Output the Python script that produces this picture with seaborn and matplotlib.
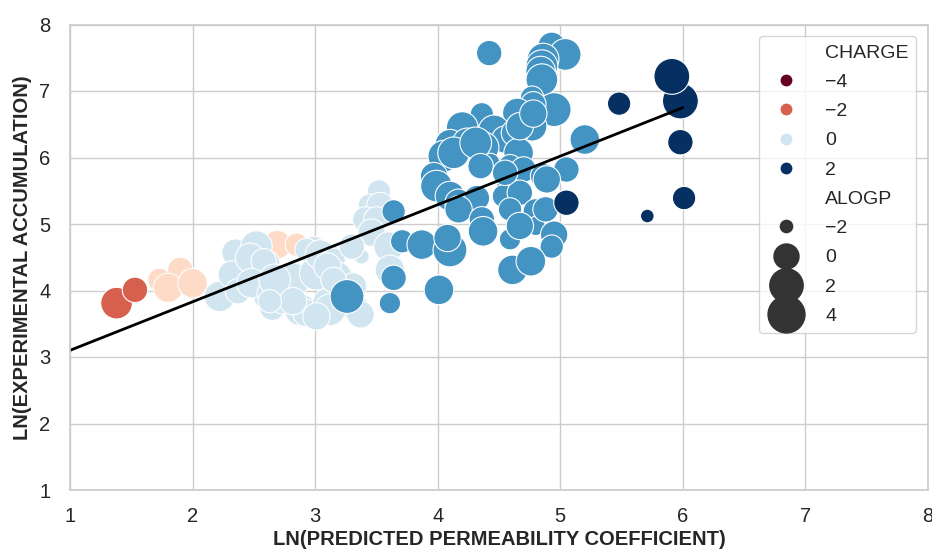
import numpy as np
import pandas as pd
import matplotlib
matplotlib.use("Agg")
import matplotlib.pyplot as plt
import seaborn as sns
from matplotlib.lines import Line2D

# ln(predicted permeability coefficient), ln(experimental accumulation),
# net charge and ALOGP for each compound
perm = [1.38, 1.53,
        1.73, 1.90, 1.80, 2.00, 2.69, 2.85,
        2.22, 2.35, 2.32, 2.37, 2.52, 2.52, 2.61, 2.61, 2.65, 2.73,
        2.82, 2.88, 3.01, 2.99, 2.93, 3.10, 3.10, 2.47, 2.58, 2.93,
        3.04, 3.15, 2.48, 2.62, 2.67, 2.82, 3.18, 3.31, 3.34, 3.12,
        3.01, 2.63, 3.52, 3.44, 3.53, 3.41, 3.50, 3.46, 3.60, 3.38,
        3.30, 3.61, 3.10, 3.15, 3.37,
        3.26, 3.64, 3.71, 3.87, 3.64, 3.61, 4.01,
        4.42, 4.93, 5.04, 4.86, 4.85, 4.84, 4.85, 4.77, 4.95, 4.78,
        4.36, 4.65, 4.77, 4.20, 4.10, 4.05, 4.46, 4.55, 4.63, 4.37,
        4.66, 4.43, 4.59, 4.59, 5.20, 3.97, 4.70, 4.86, 5.05, 4.24,
        4.13, 4.31, 4.67, 4.78, 3.99, 4.10, 4.17, 4.32, 4.56, 4.54,
        4.67, 4.59, 4.89, 4.80, 4.17, 4.36, 4.37, 4.80, 4.59, 4.67,
        4.88, 4.95, 4.93, 4.10, 4.08, 4.61, 4.76, 4.35, 4.55,
        5.98, 5.91, 5.48, 5.98, 6.01, 5.71, 5.05]
accum = [3.81, 4.01,
         4.16, 4.31, 4.04, 4.11, 4.69, 4.69,
         3.91, 4.57, 4.24, 3.99, 4.66, 4.36, 4.41, 3.91, 3.74, 3.84,
         4.16, 3.71, 4.26, 4.61, 3.66, 3.81, 4.51, 4.49, 4.44, 4.61,
         4.54, 4.46, 4.11, 3.96, 4.16, 3.84, 4.21, 4.06, 3.71, 3.71,
         3.61, 3.84, 5.49, 5.29, 5.27, 5.07, 5.07, 4.87, 4.66, 4.51,
         4.66, 4.31, 4.36, 4.16, 3.64,
         3.91, 5.19, 4.74, 4.69, 4.19, 3.81, 4.01,
         7.57, 7.68, 7.55, 7.48, 7.38, 7.30, 7.17, 6.90, 6.72, 6.80,
         6.65, 6.67, 6.47, 6.45, 6.20, 6.02, 6.40, 6.27, 6.37, 6.15,
         6.07, 5.92, 5.87, 5.79, 6.27, 5.72, 5.82, 5.72, 5.82, 6.22,
         6.07, 6.22, 6.47, 6.66, 5.57, 5.42, 5.32, 5.39, 5.57, 5.42,
         5.47, 5.22, 5.67, 5.19, 5.22, 5.07, 4.89, 4.97, 4.77, 4.97,
         5.22, 4.84, 4.66, 4.61, 4.79, 4.31, 4.44, 5.87, 5.77,
         6.85, 7.22, 6.81, 6.23, 5.39, 5.12, 5.32]
charge = ([-2] * 2 + [-1] * 6 + [0] * 45 + [1] * 66 + [2] * 7)
alogp = [1.2, -0.2,
         -0.6, -0.2, 0.65, 0.65, 0.45, -0.6,
         0.9, 0.2, 0.2, -0.2, 1.2, 0.7, -0.2, 0.2, -0.2, -0.2,
         1.75, 1.2, 1.75, 0.2, 0.2, 0.7, 0.2, 0.7, -0.2, -0.6,
         0.7, -0.6, 0.7, -0.6, 1.2, 0.2, 0.7, 0.2, 0.2, 1.2,
         0.2, -0.6, -0.6, -0.95, 0.2, -0.2, -0.2, 0.2, 0.7, -1.85,
         -0.2, 0.7, 0.2, -0.2, 0.2,
         1.75, -0.6, -0.6, 0.7, -0.2, -0.95, 0.7,
         -0.2, 0.2, 1.2, 1.2, 1.2, 0.7, 1.2, -0.6, 1.75, -0.2,
         -0.6, 0.7, 0.7, 1.2, 0.7, 1.2, 1.2, 0.2, 0.2, 1.2,
         0.7, -1.3, -0.6, -1.3, 0.7, 0.2, -0.2, -0.2, -0.2, 0.7,
         1.2, 1.2, 0.2, 0.2, 1.2, 0.7, 0.2, -0.2, -1.3, -0.6,
         -0.2, -0.6, 0.2, -0.2, 0.2, -0.2, 0.7, -1.3, -0.95, 0.2,
         -0.2, 0.2, -0.6, 1.75, 0.2, 0.7, 0.7, -0.2, -0.2,
         2.3, 2.3, -0.6, -0.2, -0.6, -2.0, -0.2]

# fitted trend line
fit_x = [1, 6]
fit_y = [3.1, 6.75]

charge_ticks = [-4, -2, 0, 2]
alogp_ticks = [-2, 0, 2, 4]

df = pd.DataFrame({"perm": perm, "accum": accum,
                   "CHARGE": charge, "ALOGP": alogp})

sns.set_theme(style="whitegrid")
plt.rcParams["font.family"] = ["Liberation Sans", "DejaVu Sans"]

hue_norm = (-3, 2)
size_norm = (-2.2, 3.0)
size_range = (70, 760)

fig = plt.figure(figsize=(9.32, 5.5), dpi=100)
ax = fig.add_axes([70 / 932, 60 / 550, 858 / 932, 465.5 / 550])

sns.scatterplot(data=df, x="perm", y="accum", hue="CHARGE", size="ALOGP",
                palette="RdBu", hue_norm=hue_norm,
                sizes=size_range, size_norm=size_norm,
                linewidth=0.8, legend=False, ax=ax)
ax.plot(fit_x, fit_y, color="black", lw=2)

ax.set_xlim(1, 8)
ax.set_ylim(1, 8)
ax.set_xticks(range(1, 9))
ax.set_yticks(range(1, 9))
ax.tick_params(axis="x", labelsize=14.5, pad=6)
ax.tick_params(axis="y", labelsize=14.5, pad=8)
ax.set_xlabel("LN(PREDICTED PERMEABILITY COEFFICIENT)", fontsize=14.5,
              fontweight="bold", labelpad=3)
ax.set_ylabel("LN(EXPERIMENTAL ACCUMULATION)", fontsize=14.5,
              fontweight="bold", labelpad=5)

# legend in seaborn's brief style
cmap = plt.get_cmap("RdBu")
cnorm = plt.Normalize(*hue_norm, clip=True)
snorm = plt.Normalize(*size_norm, clip=True)

handles = [Line2D([], [], linestyle="", marker="")]
labels = ["CHARGE"]
for c in charge_ticks:
    handles.append(Line2D([], [], linestyle="", marker="o", markersize=8.5,
                          markeredgewidth=0, color=cmap(cnorm(c))))
    labels.append(str(c).replace("-", "\u2212"))
handles.append(Line2D([], [], linestyle="", marker=""))
labels.append("ALOGP")
for a in alogp_ticks:
    s = size_range[0] + snorm(a) * (size_range[1] - size_range[0])
    handles.append(Line2D([], [], linestyle="", marker="o",
                          markersize=np.sqrt(s), markeredgewidth=0,
                          color=".2"))
    labels.append(str(a).replace("-", "\u2212"))

ax.legend(handles, labels, loc="upper right", fontsize=14,
          labelspacing=0.6, handletextpad=1.0, borderaxespad=0.6)

fig.savefig("out.png", dpi=100)
